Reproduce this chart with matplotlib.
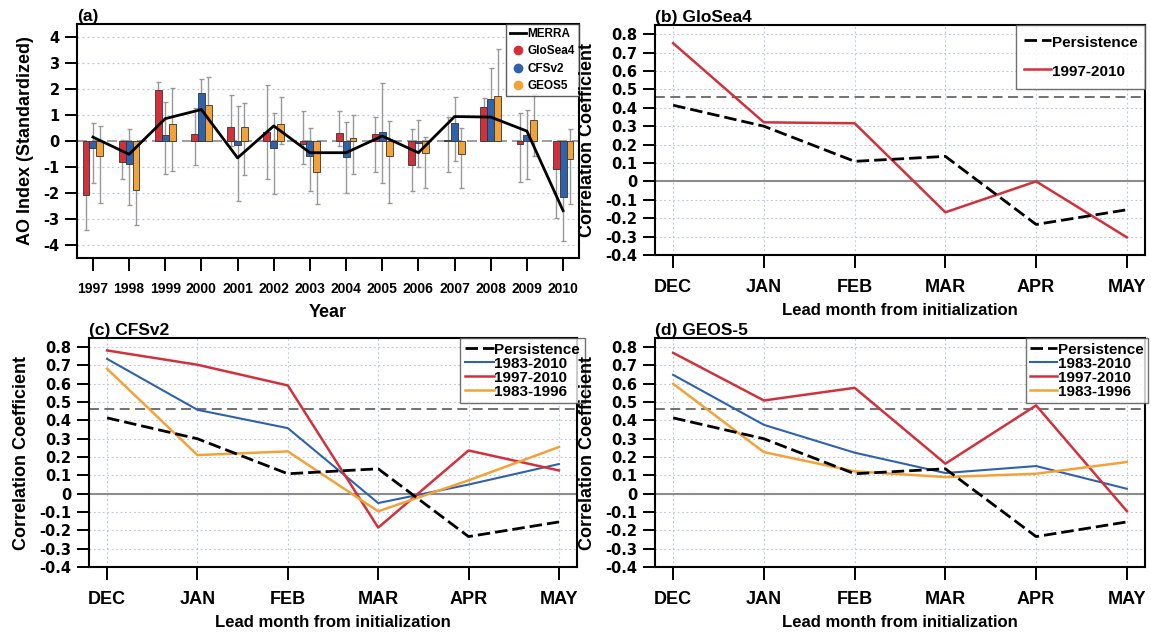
"""
AO index (a) and lead-month correlation skill (b-d), NCL-like style.
"""
import numpy as np
import matplotlib
matplotlib.use("Agg")
import matplotlib.pyplot as plt
from matplotlib.lines import Line2D

# --- panel (a): AO index per winter ---
years = [1997, 1998, 1999, 2000, 2001, 2002, 2003, 2004, 2005, 2006, 2007, 2008, 2009, 2010]
merra = [0.15, -0.51, 0.86, 1.21, -0.65, 0.58, -0.45, -0.45, 0.19, -0.45, 0.94, 0.92, 0.38, -2.68]

glosea4 = [-2.08, -0.81, 1.96, 0.28, 0.54, 0.35, -0.10, 0.29, 0.26, -0.92, 0.02, 1.31, -0.13, -1.06]
glosea4_hi = [-0.72, 0.05, 2.28, 1.28, 1.78, 2.15, 1.15, 1.15, 0.92, 0.47, 0.92, 1.67, 1.09, -0.10]
glosea4_lo = [-3.44, -1.47, 1.30, -0.91, -0.20, -1.47, -0.90, -0.20, -1.19, -1.92, -1.19, 0.90, -1.58, -2.95]

cfsv2 = [-0.27, -0.88, 0.23, 1.83, -0.14, -0.28, -0.58, -0.60, 0.36, -0.09, 0.71, 1.63, 0.23, -2.14]
cfsv2_hi = [0.71, 0.45, 1.50, 2.40, 1.35, 1.06, 0.51, 0.73, 2.24, 0.79, 1.69, 2.82, 1.18, -0.70]
cfsv2_lo = [-1.60, -2.46, -1.27, 1.00, -2.31, -2.05, -1.92, -2.01, -1.60, -0.99, -0.77, 0.40, -1.45, -3.83]

geos5 = [-0.58, -1.90, 0.64, 1.37, 0.54, 0.67, -1.18, 0.10, -0.58, -0.47, -0.51, 1.73, 0.79, -0.68]
geos5_hi = [0.58, -0.55, 2.05, 2.46, 1.47, 1.68, -0.10, 1.00, 0.77, 0.15, 0.51, 3.53, 1.82, 0.47]
geos5_lo = [-2.40, -3.24, -1.17, 0.40, -1.32, -0.10, -2.41, -1.28, -2.37, -1.79, -1.82, 0.30, -0.58, -2.44]

# --- panels (b)-(d): correlation vs lead month ---
months = ["DEC", "JAN", "FEB", "MAR", "APR", "MAY"]
persistence = [0.414, 0.300, 0.109, 0.136, -0.234, -0.154]
glosea4_9710 = [0.751, 0.321, 0.316, -0.168, 0.000, -0.304]
cfsv2_8310 = [0.736, 0.458, 0.358, -0.051, 0.050, 0.162]
cfsv2_9710 = [0.782, 0.704, 0.591, -0.185, 0.236, 0.127]
cfsv2_8396 = [0.682, 0.211, 0.231, -0.096, 0.073, 0.255]
geos5_8310 = [0.649, 0.376, 0.224, 0.113, 0.151, 0.027]
geos5_9710 = [0.769, 0.509, 0.578, 0.164, 0.482, -0.095]
geos5_8396 = [0.600, 0.227, 0.122, 0.091, 0.109, 0.173]
sig_level = 0.46

RED = "#d2313c"
BLUE = "#2f62ad"
ORANGE = "#f3a23a"
GRIDC = "#b9c6d6"
NUMFONT = "DejaVu Sans"   # wider digits, closer to the stretched NCL labels

plt.rcParams["font.family"] = ["Liberation Sans", "DejaVu Sans"]
plt.rcParams["font.weight"] = "bold"
plt.rcParams["axes.labelweight"] = "bold"
plt.rcParams["axes.titleweight"] = "bold"

W, H = 1151, 639
fig = plt.figure(figsize=(W / 100, H / 100), dpi=100)


def rect(l, t, r, b):
    return [l / W, 1 - b / H, (r - l) / W, (b - t) / H]


def style_axes(ax):
    for s in ax.spines.values():
        s.set_linewidth(1.5)
    ax.tick_params(direction="out", length=9, width=1.4, top=False, right=False)


# (a) ------------------------------------------------------------
ax = fig.add_axes(rect(77, 24, 579, 258))
style_axes(ax)
ax.tick_params(axis="x", pad=8)
yr = np.array(years)
bw = 0.19
for v in range(-4, 5):
    if v != 0:
        ax.axhline(v, color=GRIDC, lw=0.9, ls=(0, (1.5, 2.5)), zorder=0)
ax.axhline(0, color="0.55", lw=1.2, ls=(0, (6, 3)), zorder=1)
for off, val, lo, hi, col in [(-bw, glosea4, glosea4_lo, glosea4_hi, RED),
                              (0.0, cfsv2, cfsv2_lo, cfsv2_hi, BLUE),
                              (bw, geos5, geos5_lo, geos5_hi, ORANGE)]:
    val = np.array(val)
    yerr = [val - np.array(lo), np.array(hi) - val]
    ax.errorbar(yr + off, val, yerr=yerr, fmt="none", ecolor="0.6", elinewidth=1.0,
                capsize=1.8, capthick=1.0, zorder=2)
    ax.bar(yr + off, val, width=bw, color=col, edgecolor="0.2", linewidth=0.6, zorder=3)
ax.plot(yr, merra, color="k", lw=2.0, zorder=5)
ax.set_xlim(1996.56, 2010.44)
ax.set_ylim(-4.5, 4.5)
ax.set_xticks(years)
ax.set_xticklabels([str(y) for y in years], fontsize=10)
ax.set_yticks(range(-4, 5))
ax.set_yticklabels([str(v) for v in range(-4, 5)], fontsize=10.5, fontfamily=NUMFONT)
ax.set_xlabel("Year", fontsize=13, labelpad=6)
ax.set_ylabel("AO Index (Standardized)", fontsize=13, labelpad=7)
ax.set_title("(a)", loc="left", fontsize=12.5, pad=1)
handles = [Line2D([], [], color="k", lw=2),
           Line2D([], [], ls="none", marker="o", ms=6, color=RED),
           Line2D([], [], ls="none", marker="o", ms=6, color=BLUE),
           Line2D([], [], ls="none", marker="o", ms=6, color=ORANGE)]
leg = ax.legend(handles, ["MERRA", "GloSea4", "CFSv2", "GEOS5"], loc="upper right",
                fontsize=8.5, frameon=True, fancybox=False, borderaxespad=0.0,
                handlelength=1.4, handletextpad=0.1, labelspacing=0.45, borderpad=0.35)
leg.get_frame().set_edgecolor("0.2")
leg.get_frame().set_linewidth(1.0)


# (b)-(d) ---------------------------------------------------------
def corr_panel(box, title, series, leg_opts):
    ax = fig.add_axes(rect(*box))
    style_axes(ax)
    ax.tick_params(axis="x", pad=8)
    x = np.arange(len(months))
    yt = np.round(np.arange(-0.4, 0.81, 0.1), 1) + 0.0
    for v in yt:
        ax.axhline(v, color=GRIDC, lw=0.8, ls=(0, (1.5, 2.5)), zorder=0)
    for xv in x:
        ax.axvline(xv, color=GRIDC, lw=0.8, ls=(0, (1.5, 2.5)), zorder=0)
    ax.axhline(0, color="0.55", lw=1.5, zorder=1)
    ax.axhline(sig_level, color="0.4", lw=1.3, ls=(0, (5.5, 3)), zorder=1)
    handles, labels = [], []
    h, = ax.plot(x, persistence, color="k", lw=2.0, ls=(0, (4.5, 1.8)), zorder=4)
    handles.append(h); labels.append("Persistence")
    for vals, col, lw, lab in series:
        h, = ax.plot(x, vals, color=col, lw=lw, zorder=3)
        handles.append(h); labels.append(lab)
    ax.set_xlim(-0.2, 5.2)
    ax.set_ylim(-0.4, 0.85)
    ax.set_xticks(x)
    ax.set_xticklabels(months, fontsize=13)
    ax.set_yticks(yt)
    ax.set_yticklabels(["0" if abs(v) < 1e-9 else "%g" % v for v in yt],
                       fontsize=10.5, fontfamily=NUMFONT)
    ax.set_xlabel("Lead month from initialization", fontsize=12, labelpad=5)
    ax.set_ylabel("Correlation Coefficient", fontsize=13, labelpad=7)
    ax.set_title(title, loc="left", fontsize=12.5, pad=1)
    leg = ax.legend(handles, labels, fontsize=11, frameon=True, fancybox=False,
                    borderaxespad=0.0, handletextpad=0.05, bbox_transform=fig.transFigure,
                    **leg_opts)
    leg.get_frame().set_edgecolor("0.3")
    leg.get_frame().set_linewidth(1.0)
    return ax


corr_panel((655, 25, 1145, 255), "(b) GloSea4",
           [(glosea4_9710, RED, 1.8, "1997-2010")],
           dict(loc="upper right", bbox_to_anchor=(1145 / W, 1 - 25 / H),
                handlelength=1.75, handleheight=1.6, labelspacing=0.6, borderpad=0.5))
corr_panel((89, 338, 577, 567), "(c) CFSv2",
           [(cfsv2_8310, BLUE, 1.5, "1983-2010"),
            (cfsv2_9710, RED, 1.8, "1997-2010"),
            (cfsv2_8396, ORANGE, 1.8, "1983-1996")],
           dict(loc="upper left", bbox_to_anchor=(460 / W, 1 - 338 / H),
                handlelength=1.9, labelspacing=0.0, borderpad=0.3))
corr_panel((655, 338, 1145, 567), "(d) GEOS-5",
           [(geos5_8310, BLUE, 1.5, "1983-2010"),
            (geos5_9710, RED, 1.8, "1997-2010"),
            (geos5_8396, ORANGE, 1.8, "1983-1996")],
           dict(loc="upper right", bbox_to_anchor=(1148 / W, 1 - 338 / H),
                handlelength=1.75, labelspacing=0.0, borderpad=0.3))

fig.savefig("out.png", dpi=100)
